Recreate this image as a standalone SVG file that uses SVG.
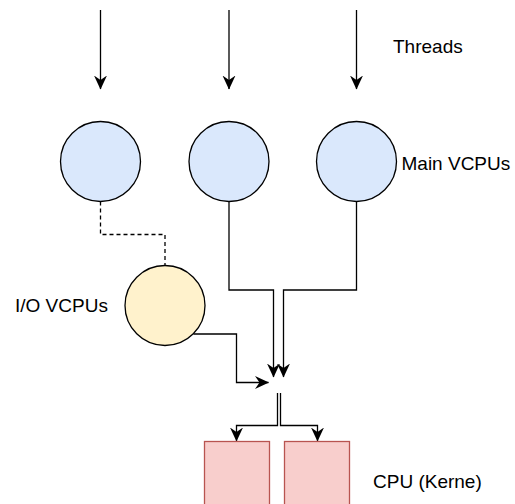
<svg xmlns="http://www.w3.org/2000/svg" width="515" height="504" viewBox="0 0 515 504">
  <style>
    .lbl { font-family: "Liberation Sans", Arial, sans-serif; font-size: 19px; fill: #000000; }
    .vcpu { fill: #dae8fc; stroke: #000000; stroke-width: 1.3; }
    .io { fill: #fff2cc; stroke: #000000; stroke-width: 1.3; }
    .core { fill: #f8cecc; stroke: #b85450; stroke-width: 1.3; }
    .edge { fill: none; stroke: #000000; stroke-width: 1.3; }
    .arrow { marker-end: url(#arrowhead); }
    .dash { stroke-dasharray: 4 3; }
  </style>
  <defs>
    <marker id="arrowhead" viewBox="0 0 14 14" refX="13.5" refY="7" markerWidth="14" markerHeight="14" markerUnits="userSpaceOnUse" orient="auto">
      <path d="M0,0.5 L14,7 L0,13.5 L4.5,7 Z" fill="#000000"/>
    </marker>
  </defs>
  <rect x="0" y="0" width="515" height="504" fill="#ffffff"/>

  <g id="connectors">
    <path class="edge arrow" d="M100.5,10 L100.5,89"/>
    <path class="edge arrow" d="M229,10 L229,89"/>
    <path class="edge arrow" d="M356.5,10 L356.5,89"/>
    <path class="edge dash" d="M100.5,201.5 L100.5,234.5 L165,234.5 L165,265.5"/>
    <path class="edge arrow" d="M229,201.5 L229,290 L273.5,290 L273.5,377"/>
    <path class="edge arrow" d="M356.5,201.5 L356.5,290 L283.5,290 L283.5,377"/>
    <path class="edge arrow" d="M193.5,334 L236.5,334 L236.5,382.5 L268.5,382.5"/>
    <path class="edge arrow" d="M277.5,393 L277.5,425.5 L236.5,425.5 L236.5,441"/>
    <path class="edge arrow" d="M280.5,393 L280.5,425.5 L317.5,425.5 L317.5,441"/>
  </g>

  <g id="vcpu-main-1"><circle class="vcpu" cx="100.5" cy="161.5" r="40"/></g>
  <g id="vcpu-main-2"><circle class="vcpu" cx="229" cy="161.5" r="40"/></g>
  <g id="vcpu-main-3"><circle class="vcpu" cx="356.5" cy="161.5" r="40"/></g>
  <g id="vcpu-io"><circle class="io" cx="165" cy="305.5" r="40"/></g>
  <g id="core-1"><rect class="core" x="204.5" y="441.5" width="65" height="80"/></g>
  <g id="core-2"><rect class="core" x="284.5" y="441.5" width="65" height="80"/></g>

  <g id="label-threads"><text class="lbl" x="393" y="53">Threads</text></g>
  <g id="label-main"><text class="lbl" x="401.5" y="170">Main VCPUs</text></g>
  <g id="label-io"><text class="lbl" x="15" y="312">I/O VCPUs</text></g>
  <g id="label-cpu"><text class="lbl" x="373" y="488">CPU (Kerne)</text></g>
</svg>
